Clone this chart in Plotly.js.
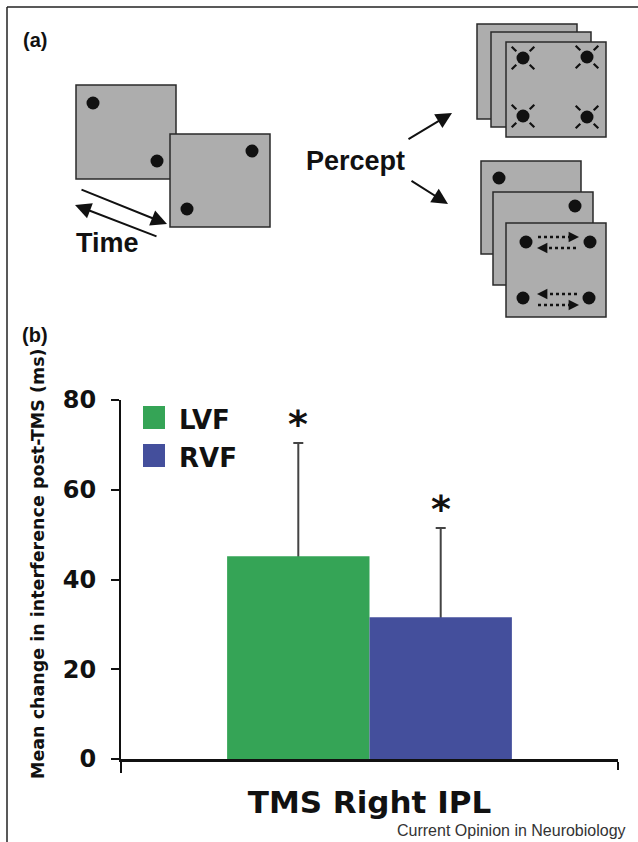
<!DOCTYPE html>
<html>
<head>
<meta charset="utf-8">
<script src="https://cdn.plot.ly/plotly-3.0.1.min.js"></script>
<style>html,body{margin:0;padding:0;background:#fff;}#chart{width:638px;height:842px;}</style>
</head>
<body>
<div id="chart"></div>
<script>
// ---------- data (panel b) ----------
const categories = ['TMS Right IPL'];
const seriesNames = ['LVF', 'RVF'];
const lvfMean = [45.2];
const rvfMean = [31.6];
const lvfErr = [25.2];
const rvfErr = [19.9];
const sigMarks = ['*', '*'];
const yTickVals = [0, 20, 40, 60, 80];
const yTickText = ['0', '20', '40', '60', '80'];
const yTitle = 'Mean change in interference post-TMS (ms)';
const panelLabels = ['(a)', '(b)'];
const diagramLabels = ['Time', 'Percept'];
const credit = 'Current Opinion in Neurobiology';

const colors = ['#35a456', '#444f9c'];
const W = 638, H = 842;
const BARGAP = 0.427;

// ---------- traces ----------
const means = [lvfMean, rvfMean];
const errs = [lvfErr, rvfErr];
// base subplot: invisible bars carrying the error bars (drawn beneath)
const traces = seriesNames.map((name, i) => ({
  type: 'bar', name: name + ' error', x: categories, y: means[i],
  marker: {color: 'rgba(0,0,0,0)', line: {width: 0}},
  error_y: {type: 'data', array: errs[i], symmetric: true,
            color: '#444', thickness: 2, width: 5},
  showlegend: false, hoverinfo: 'skip'
}));
// overlay subplot: visible bars that hide the lower half of the error bars
seriesNames.forEach((name, i) => traces.push({
  type: 'bar', name: name, x: categories, y: means[i], xaxis: 'x3', yaxis: 'y3',
  marker: {color: colors[i], line: {width: 0}},
  showlegend: false, hoverinfo: 'skip'
}));
// dummy trace to activate diagram axes
traces.push({type: 'scatter', x: [0], y: [0], xaxis: 'x2', yaxis: 'y2', mode: 'markers',
  marker: {opacity: 0}, showlegend: false, hoverinfo: 'skip'});

// ---------- diagram helpers (panel a, pixel coords on x2/y2) ----------
const shapes = [];
const annotations = [];
const INK = '#111';
function rect(x0, y0, x1, y1) {
  shapes.push({type: 'rect', xref: 'x2', yref: 'y2', x0, y0, x1, y1,
    fillcolor: '#adadad', line: {color: '#2a2a2a', width: 1.5}});
}
function dot(cx, cy, r) {
  r = r || 6.5;
  shapes.push({type: 'circle', xref: 'x2', yref: 'y2', x0: cx - r, y0: cy - r, x1: cx + r, y1: cy + r,
    fillcolor: INK, line: {color: INK, width: 0}});
}
function line(x0, y0, x1, y1, w, dash, col) {
  shapes.push({type: 'line', xref: 'x2', yref: 'y2', x0, y0, x1, y1,
    line: {color: col || INK, width: w || 2, dash: dash || 'solid'}});
}
function arrow(tx, ty, hx, hy, size, width) {
  annotations.push({xref: 'x2', yref: 'y2', axref: 'x2', ayref: 'y2', x: hx, y: hy, ax: tx, ay: ty,
    text: '', showarrow: true, arrowhead: 2, arrowsize: size || 1.5, arrowwidth: width || 2,
    arrowcolor: INK, standoff: 0, startstandoff: 0});
}
function rays(cx, cy) {
  [[-1, -1], [1, -1], [-1, 1], [1, 1]].forEach(([dx, dy]) => {
    const k = Math.SQRT1_2;
    line(cx + dx * k * 9.5, cy + dy * k * 9.5, cx + dx * k * 16, cy + dy * k * 16, 2.2);
  });
}
function dottedArrow(x0, x1, y) {
  const dir = Math.sign(x1 - x0);
  line(x0, y, x1 - dir * 8, y, 2.5, 'dot');
  arrow(x1 - dir * 10, y, x1, y, 1.3, 1.6);
}
function text(t, x, y, size, opts) {
  annotations.push(Object.assign({xref: 'x2', yref: 'y2', x, y, text: t, showarrow: false,
    font: {family: 'Liberation Sans, Arial, sans-serif', size, color: INK, weight: 'bold'},
    xanchor: 'center', yanchor: 'middle'}, opts || {}));
}

// frame
line(7, 7, 638, 7, 1.5, 'solid', '#222');
line(7, 7, 7, 842, 1.5, 'solid', '#222');

// left pair of frames
rect(76, 85, 176, 179);
dot(93, 103); dot(157, 161);
rect(170, 134, 270, 227);
dot(252, 151); dot(187, 209);
arrow(80, 189, 167, 224, 1.6, 2);
arrow(158, 237, 75, 205, 1.6, 2);

// top stack
rect(477, 24, 577, 119);
rect(491, 32, 591, 127);
rect(506, 42, 606, 137);
[[523, 58], [587, 57], [523, 116], [587, 117]].forEach(([x, y]) => { dot(x, y); rays(x, y); });

// bottom stack
rect(481, 161, 581, 254);
dot(499, 178);
rect(493, 192, 593, 285);
dot(575, 206);
rect(506, 223, 606, 317);
dot(526, 242); dot(590, 242); dot(523, 298); dot(589, 298);
dottedArrow(538, 579, 237);
dottedArrow(576, 537, 248);
dottedArrow(577, 537, 294);
dottedArrow(538, 579, 305);

// percept arrows
arrow(407, 140, 452, 113, 1.6, 2);
arrow(410, 180, 448, 204, 1.6, 2);

// labels panel a
text(panelLabels[0], 35, 40, 20);
text(diagramLabels[0], 107, 243, 27);
text(diagramLabels[1], 355, 161, 27);
text(panelLabels[1], 35, 335, 20);

// ---------- panel b annotations ----------
const vfont = 'DejaVu Sans, Verdana, sans-serif';
// y title
annotations.push({xref: 'paper', yref: 'paper', x: 38 / W, y: 1 - 564 / H, text: yTitle,
  textangle: -90, showarrow: false, xanchor: 'center', yanchor: 'middle',
  font: {family: vfont, size: 17.5, color: INK, weight: 'bold'}});
// legend (manual, large swatches)
seriesNames.forEach((name, i) => {
  const yc = 417.5 + i * 38;
  shapes.push({type: 'rect', xref: 'x2', yref: 'y2', x0: 143, x1: 165, y0: yc - 11.5, y1: yc + 11.5,
    fillcolor: colors[i], line: {width: 0}});
  annotations.push({xref: 'x2', yref: 'y2', x: 177, y: yc + 2, text: name, showarrow: false,
    xanchor: 'left', yanchor: 'middle', font: {family: vfont, size: 26, color: INK, weight: 'bold'}});
});
// significance asterisks above error bars
const half = (1 - BARGAP) / 4;
seriesNames.forEach((name, i) => {
  annotations.push({xref: 'x', yref: 'y', x: (i === 0 ? -half : half), y: means[i][0] + errs[i][0],
    text: sigMarks[i], showarrow: false, xanchor: 'center', yanchor: 'bottom', yshift: -5,
    font: {family: vfont, size: 38, color: INK, weight: 'bold'}});
});
// credit
annotations.push({xref: 'paper', yref: 'paper', x: 628 / W, y: 1 - 830 / H, text: credit,
  showarrow: false, xanchor: 'right', yanchor: 'middle',
  font: {family: 'Liberation Sans, Arial, sans-serif', size: 16, color: '#333'}});
// extension of the y axis line below zero
shapes.push({type: 'line', xref: 'paper', yref: 'paper', x0: 121 / W, x1: 121 / W,
  y0: 1 - 759 / H, y1: 1 - 773 / H, line: {color: INK, width: 2}});

const xDom = [121 / W, 618 / W], yDom = [1 - 759 / H, 1 - 400 / H];
const layout = {
  width: W, height: H,
  margin: {l: 0, r: 0, t: 0, b: 0, pad: 0},
  paper_bgcolor: '#fff', plot_bgcolor: 'rgba(0,0,0,0)',
  barmode: 'group', bargap: BARGAP, bargroupgap: 0,
  showlegend: false,
  xaxis: {domain: xDom, anchor: 'y', type: 'category', range: [-0.5, 0.5],
    showline: true, linecolor: INK, linewidth: 3, showgrid: false, zeroline: false,
    ticks: 'outside', tickson: 'boundaries', ticklen: 8, tickwidth: 2, tickcolor: INK,
    ticklabelstandoff: 14,
    tickfont: {family: vfont, size: 31, color: INK, weight: 'bold'}, fixedrange: true},
  yaxis: {domain: yDom, anchor: 'x', range: [0, 80],
    tickvals: yTickVals, ticktext: yTickText,
    showline: true, linecolor: INK, linewidth: 2, showgrid: false, zeroline: false,
    ticks: 'outside', ticklen: 8, tickwidth: 2, tickcolor: INK, ticklabelstandoff: 10,
    tickfont: {family: vfont, size: 24, color: INK, weight: 'bold'}, fixedrange: true},
  xaxis3: {overlaying: 'x', anchor: 'y3', type: 'category', range: [-0.5, 0.5],
    visible: false, showgrid: false, zeroline: false, fixedrange: true},
  yaxis3: {overlaying: 'y', anchor: 'x3', range: [0, 80],
    visible: false, showgrid: false, zeroline: false, fixedrange: true},
  xaxis2: {domain: [0, 1], anchor: 'y2', range: [0, W], visible: false, fixedrange: true},
  yaxis2: {domain: [0, 1], anchor: 'x2', range: [H, 0], visible: false, fixedrange: true},
  shapes: shapes,
  annotations: annotations
};

Plotly.newPlot('chart', traces, layout, {displayModeBar: false, staticPlot: true});
</script>
</body>
</html>
